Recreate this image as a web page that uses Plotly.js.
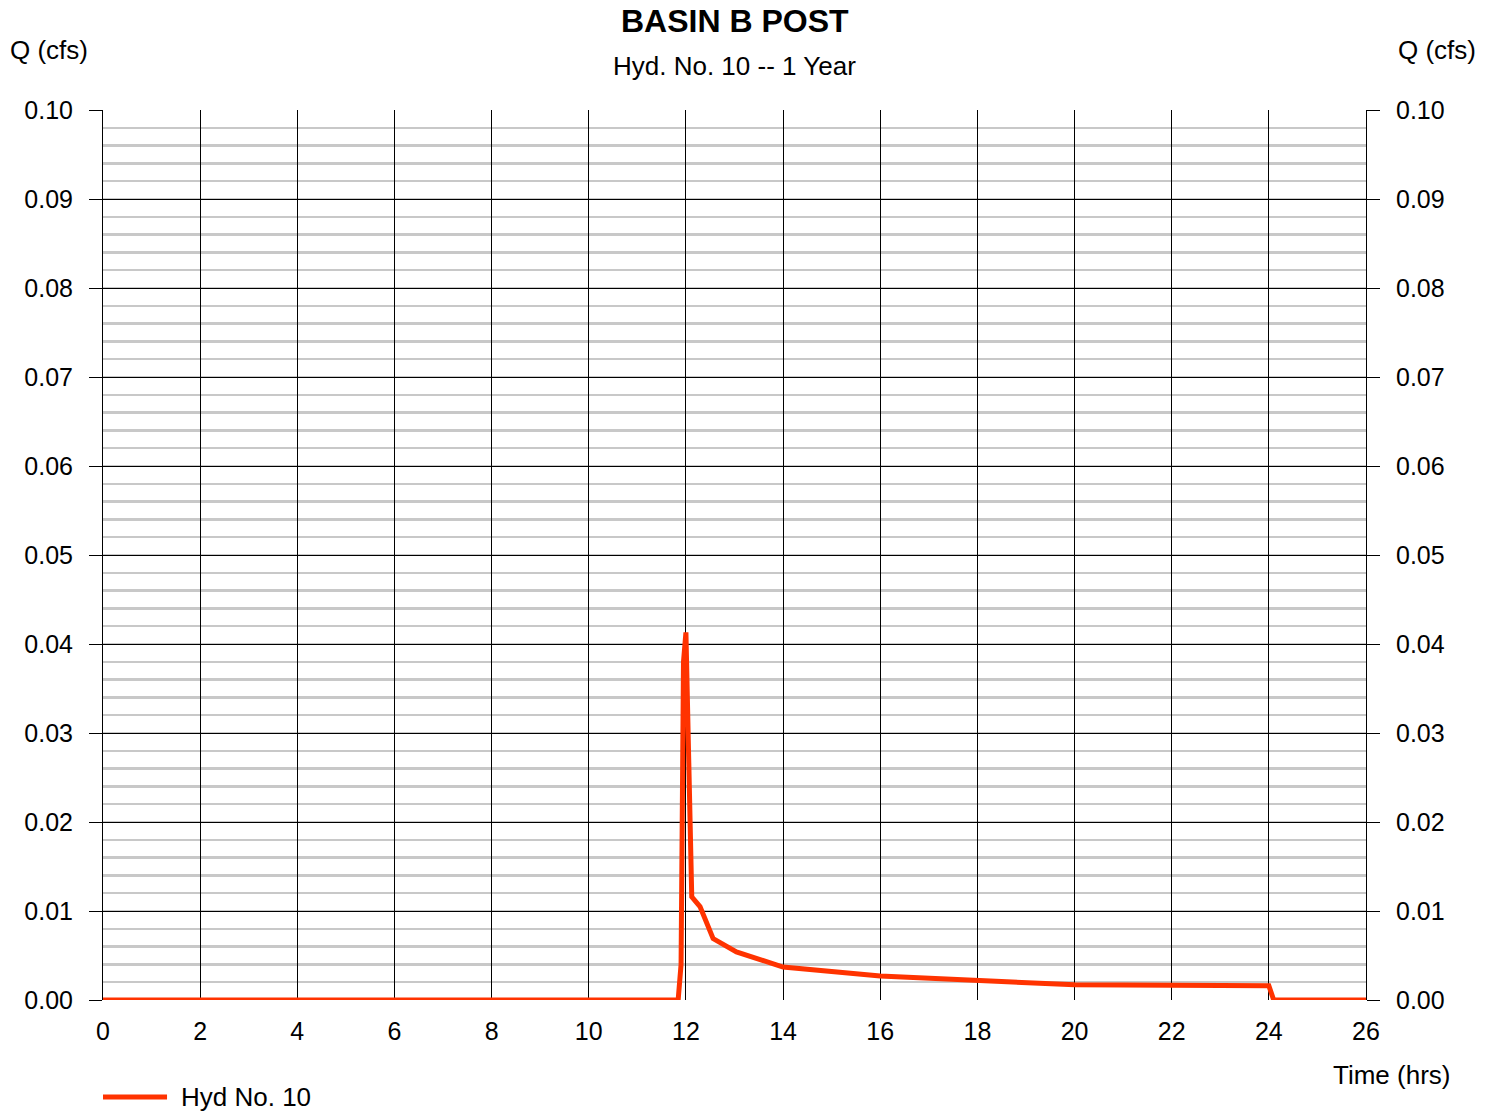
<!DOCTYPE html>
<html>
<head>
<meta charset="utf-8">
<script src="https://cdn.plot.ly/plotly-3.0.1.min.js"></script>
<style>html,body{margin:0;padding:0;background:#fff;}#chart{width:1494px;height:1112px;}</style>
</head>
<body>
<div id="chart"></div>
<script>
const timeHrs = [0, 11.84, 11.9, 11.95, 12.0, 12.12, 12.29, 12.56, 13.04, 13.52, 14.0, 16.0, 18.0, 20.0, 22.0, 24.0, 24.1, 26.0];
const flowCfs = [0, 0, 0.004, 0.038, 0.0413, 0.0116, 0.0105, 0.0069, 0.0054, 0.0045, 0.0037, 0.0027, 0.00225, 0.0017, 0.00165, 0.0016, 0, 0];
const seriesName = 'Hyd No. 10';
const chartTitle = 'BASIN B POST';
const chartSubtitle = 'Hyd. No. 10 -- 1 Year';
const xTickVals = [0, 2, 4, 6, 8, 10, 12, 14, 16, 18, 20, 22, 24, 26];
const yTickVals = [0, 0.01, 0.02, 0.03, 0.04, 0.05, 0.06, 0.07, 0.08, 0.09, 0.10];

const FONT = 'Liberation Sans, Arial, sans-serif';
const lineColor = '#ff3300';
const TXT = 26;
const TICK = 25;

const traces = [
  {x: timeHrs, y: flowCfs, type: 'scatter', mode: 'lines', name: seriesName,
   line: {color: lineColor, width: 5}, showlegend: false, hoverinfo: 'skip'},
  {x: timeHrs, y: flowCfs, type: 'scatter', mode: 'lines', yaxis: 'y2',
   line: {color: 'rgba(0,0,0,0)', width: 0}, showlegend: false, hoverinfo: 'skip'}
];

const yCommon = {
  range: [0, 0.1], tickvals: yTickVals, tickformat: '.2f',
  ticks: 'outside', ticklen: 13, tickwidth: 1, tickcolor: '#000',
  ticklabelstandoff: 11,
  tickfont: {family: FONT, size: TICK, color: '#000'},
  zeroline: false, fixedrange: true
};

const layout = {
  width: 1494, height: 1112,
  margin: {l: 103, r: 128, t: 110, b: 112},
  paper_bgcolor: '#fff', plot_bgcolor: '#fff',
  font: {family: FONT, color: '#000'},
  showlegend: false,
  xaxis: {
    range: [0, 26], tickvals: xTickVals, ticks: '',
    ticklabelstandoff: 14,
    tickfont: {family: FONT, size: TICK, color: '#000'},
    showgrid: true, gridcolor: '#000', gridwidth: 1,
    showline: false, zeroline: false, fixedrange: true
  },
  yaxis: Object.assign({}, yCommon, {
    side: 'left', showgrid: true, gridcolor: '#000', gridwidth: 1,
    minor: {dtick: 0.002, showgrid: true, gridcolor: '#c8c8c8', gridwidth: 2.5, ticks: ''},
    showline: true, linecolor: '#000', linewidth: 1
  }),
  yaxis2: Object.assign({}, yCommon, {
    side: 'right', overlaying: 'y', showgrid: false,
    showline: true, linecolor: '#000', linewidth: 1
  }),
  shapes: [
    {type: 'line', xref: 'paper', yref: 'paper', x0: 0, x1: 0.0507, y0: -0.109, y1: -0.109,
     line: {color: lineColor, width: 5}}
  ],
  annotations: [
    {text: '<b>' + chartTitle + '</b>', xref: 'paper', yref: 'paper', x: 0.5, y: 1.0, yshift: 89,
     showarrow: false, font: {family: FONT, size: 32, color: '#000'}, xanchor: 'center', yanchor: 'middle'},
    {text: chartSubtitle, xref: 'paper', yref: 'paper', x: 0.5, y: 1.0, yshift: 44,
     showarrow: false, font: {family: FONT, size: TXT, color: '#000'}, xanchor: 'center', yanchor: 'middle'},
    {text: 'Q (cfs)', xref: 'paper', yref: 'paper', x: 0, y: 1.0, xshift: -95, yshift: 60,
     showarrow: false, font: {family: FONT, size: TXT, color: '#000'}, xanchor: 'left', yanchor: 'middle'},
    {text: 'Q (cfs)', xref: 'paper', yref: 'paper', x: 1, y: 1.0, xshift: 112, yshift: 60,
     showarrow: false, font: {family: FONT, size: TXT, color: '#000'}, xanchor: 'right', yanchor: 'middle'},
    {text: 'Time (hrs)', xref: 'paper', yref: 'paper', x: 1, y: 0, xshift: 86, yshift: -75,
     showarrow: false, font: {family: FONT, size: TXT, color: '#000'}, xanchor: 'right', yanchor: 'middle'},
    {text: seriesName, xref: 'paper', yref: 'paper', x: 0, y: 0, xshift: 76, yshift: -97,
     showarrow: false, font: {family: FONT, size: TXT, color: '#000'}, xanchor: 'left', yanchor: 'middle'}
  ]
};

Plotly.newPlot('chart', traces, layout, {displayModeBar: false, staticPlot: true});
</script>
</body>
</html>
